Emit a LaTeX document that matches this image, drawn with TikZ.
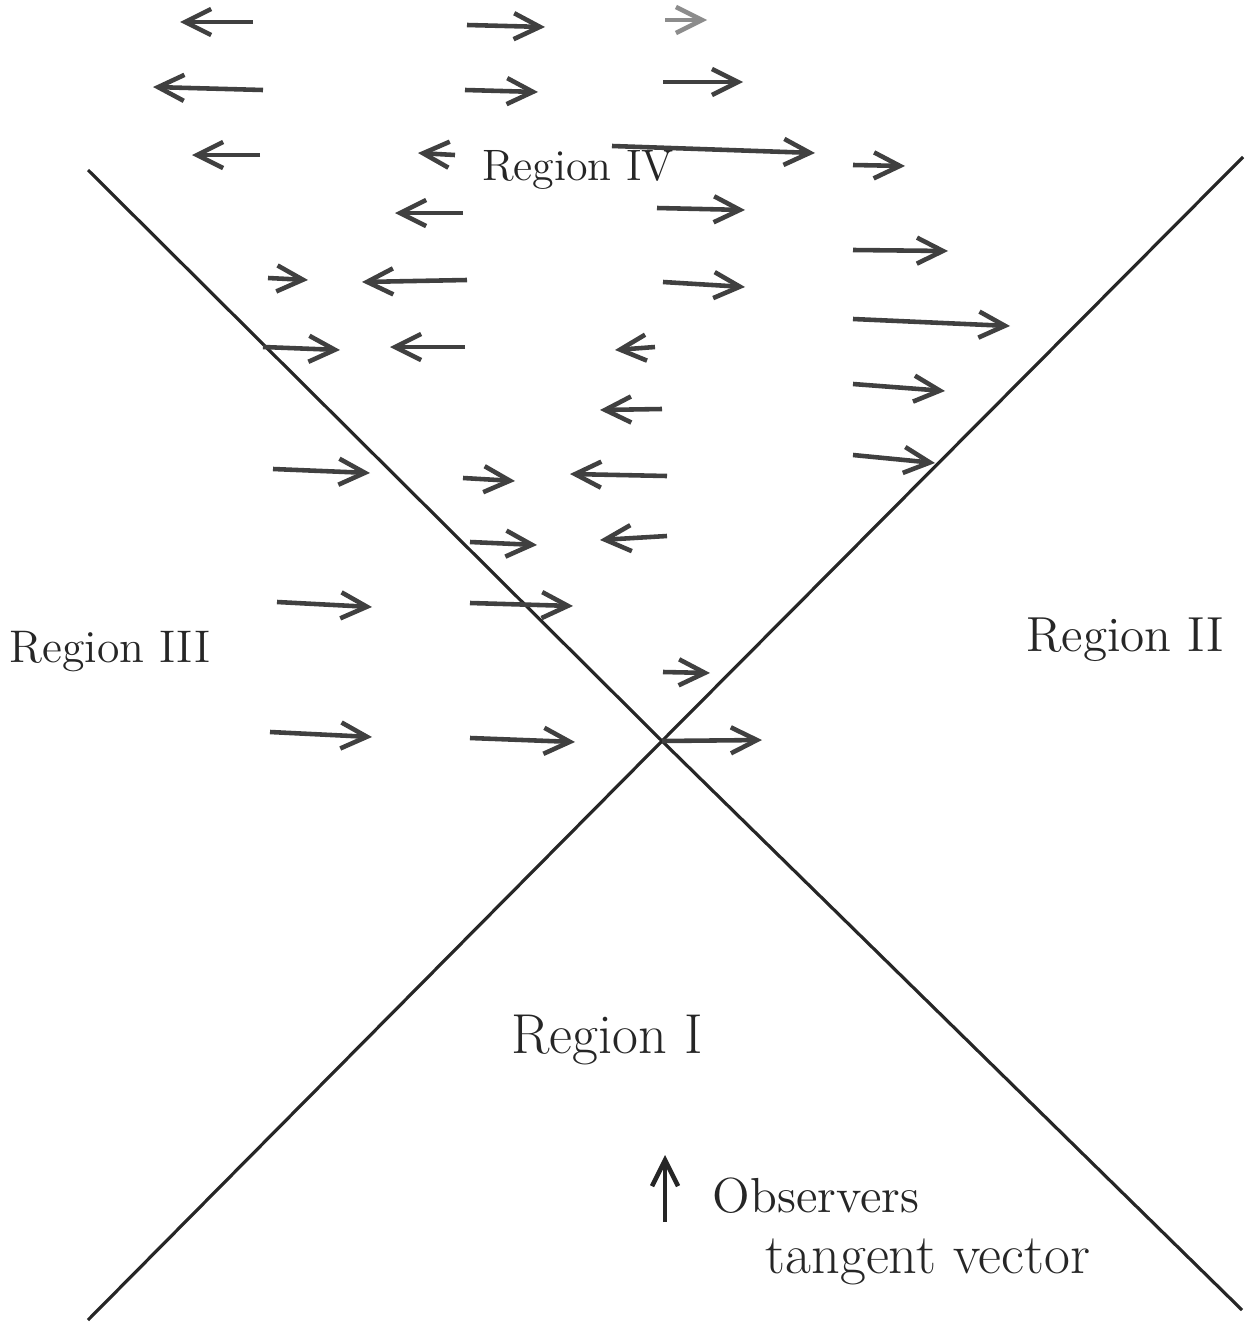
\documentclass[tikz,border=0pt]{standalone}
\usepackage{tikz}
\usetikzlibrary{positioning,arrows.meta}

\begin{document}
\begin{tikzpicture}[
  x=0.01cm, y=-0.01cm,
  horizon/.style={line width=0.9pt, black!85},
  vec/.style={-{Straight Barb[length=2.6mm,width=2.6mm]}, line width=1.3pt, black!75},
  lbl/.style={inner sep=0pt, black!85, font=\fontsize{16}{19}\selectfont}
]
\useasboundingbox (0,0) rectangle (1248,1324);
% null lines
\coordinate (o) at (662,741);
\coordinate (nw) at (88,170);
\coordinate (se) at (1242,1310);
\coordinate (sw) at (88,1320);
\coordinate (ne) at (1243,157);
\draw[horizon] (nw)--(o)--(se);
\draw[horizon] (sw)--(o)--(ne);
% vector field
\foreach \xa/\ya/\xb/\yb in {
  253/22/180/22, 467/25/545/27,
  263/90/153/87, 465/90/538/92, 663/82/743/82,
  260/155/192/155, 455/155/418/153, 612/146/815/153, 853/165/905/166,
  463/213/395/213, 657/208/745/210, 853/250/948/251,
  268/278/308/280, 467/280/362/282, 663/282/745/287,
  853/319/1010/326,
  263/347/340/350, 465/347/390/347, 655/347/615/350,
  853/384/945/391, 662/409/600/410, 853/455/935/463,
  273/469/370/473, 463/478/515/481, 667/476/570/474,
  470/542/537/545, 667/536/600/540,
  277/602/372/607, 470/603/573/606,
  663/672/710/673,
  270/732/372/737, 470/738/575/742}
  \draw[vec] (\xa,\ya)--(\xb,\yb);
\draw[vec, black!45] (665,20)--(707,20);
\draw[vec] (o)--(762,740);
% labels
\node[lbl, font=\fontsize{12.5}{15}\selectfont] (r4) at (578,170) {Region IV};
\node[lbl, font=\fontsize{13}{15}\selectfont] (r3) at (110,652) {Region III};
\node[lbl, font=\fontsize{14}{17}\selectfont] (r2) at (1125,640) {Region II};
\node[lbl] (r1) at (607,1040) {Region I};
\node[lbl, font=\fontsize{14}{17}\selectfont, anchor=west] (obs) at (712,1196) {Observers};
\node[lbl, anchor=west] (tv) at (765,1262) {tangent vector};
\coordinate (up0) at (665,1222);
\coordinate (up1) at (665,1155);
\draw[vec, black!85] (up0)--(up1);
\end{tikzpicture}
\end{document}
